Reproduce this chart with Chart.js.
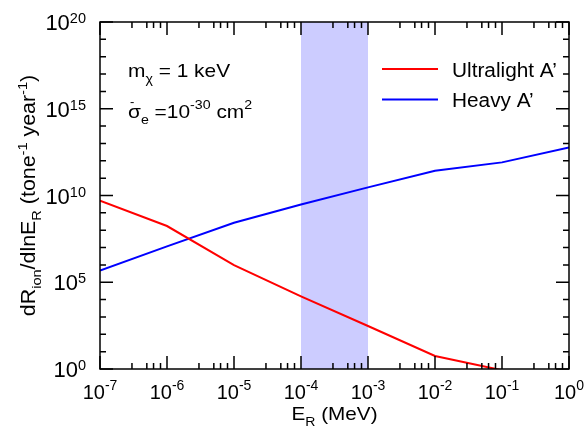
<!DOCTYPE html>
<html>
<head>
<meta charset="utf-8">
<script src="https://cdn.jsdelivr.net/npm/chart.js@4.4.1/dist/chart.umd.min.js"></script>
<style>
  html, body { margin: 0; padding: 0; background: #fff; }
  canvas { display: block; }
</style>
</head>
<body>
<canvas id="rate-chart" width="587" height="433"></canvas>
<script>
// recoil energy E_R (MeV)
const energies = [1e-7, 1e-6, 1e-5, 1e-4, 1e-3, 1e-2, 1e-1, 1];
// dR_ion/dlnE_R (tone^-1 year^-1)
const ultralight = [5.1e9, 1.74e8, 9.8e5, 1.55e4, 302, 5.6, 0.85, null];
const heavy = [4.7e5, 1.17e7, 2.7e8, 3.0e9, 2.95e10, 2.7e11, 8.1e11, 5.8e12];

const seriesNames = ['Ultralight A\u2019', 'Heavy A\u2019'];
const seriesColors = ['#ff0000', '#0000ff'];

const bandRange = [1e-4, 1e-3];

const xTickValues = [1e-7, 1e-6, 1e-5, 1e-4, 1e-3, 1e-2, 1e-1, 1];
const xTickExponents = ['-7', '-6', '-5', '-4', '-3', '-2', '-1', '0'];
const xMinorSteps = [3, 5, 6.3, 8];
const yTickValues = [1, 1e5, 1e10, 1e15, 1e20];
const yTickExponents = ['0', '5', '10', '15', '20'];

const FONT = "'Liberation Sans', Arial, sans-serif";

function toPoints(values) {
    const pts = [];
    values.forEach((v, i) => {
        if (v !== null) pts.push({ x: energies[i], y: v });
    });
    return pts;
}

// draws text with sub/superscripts; parts = [[text, 'sub'|'sup'|undefined], ...]
function drawRich(ctx, parts, x, y, opt) {
    const f = opt.size;
    const sx = opt.stretch || 1;
    const items = parts.map(p => {
        const small = p[1] === 'sub' || p[1] === 'sup';
        const size = small ? f * (opt.smallScale || 0.68) : f;
        ctx.font = size + 'px ' + FONT;
        const dy = p[1] === 'sub' ? (opt.subDy ?? f * 0.3) : p[1] === 'sup' ? -(opt.supDy ?? f * 0.42) : 0;
        return { text: p[0], size, dy, w: ctx.measureText(p[0]).width };
    });
    const total = items.reduce((s, it) => s + it.w, 0);
    let cx = opt.align === 'center' ? -total / 2 : opt.align === 'right' ? -total : 0;
    ctx.save();
    ctx.translate(x, y);
    if (opt.rotate) ctx.rotate(opt.rotate);
    ctx.scale(sx, 1);
    ctx.fillStyle = '#000';
    ctx.textAlign = 'left';
    ctx.textBaseline = 'alphabetic';
    items.forEach(it => {
        ctx.font = it.size + 'px ' + FONT;
        ctx.fillText(it.text, cx, it.dy);
        cx += it.w;
    });
    ctx.restore();
}

const bandPlugin = {
    id: 'band',
    beforeDatasetsDraw(chart) {
        const { ctx, chartArea, scales } = chart;
        const x0 = scales.x.getPixelForValue(bandRange[0]);
        const x1 = scales.x.getPixelForValue(bandRange[1]);
        ctx.save();
        ctx.fillStyle = '#ccccff';
        ctx.fillRect(x0, chartArea.top, x1 - x0, chartArea.bottom - chartArea.top);
        ctx.restore();
    }
};

const framePlugin = {
    id: 'frame',
    afterDraw(chart) {
        const { ctx, chartArea: a, scales } = chart;
        const xs = scales.x, ys = scales.y;
        const major = 13, minor = 6;
        ctx.save();
        ctx.strokeStyle = '#000';
        ctx.lineWidth = 1.5;
        ctx.strokeRect(a.left, a.top, a.right - a.left, a.bottom - a.top);

        ctx.beginPath();
        // x ticks, bottom and top, pointing inward
        xTickValues.forEach((v, i) => {
            const px = xs.getPixelForValue(v);
            ctx.moveTo(px, a.bottom); ctx.lineTo(px, a.bottom - major);
            ctx.moveTo(px, a.top); ctx.lineTo(px, a.top + major);
            if (i < xTickValues.length - 1) {
                xMinorSteps.forEach(m => {
                    const mx = xs.getPixelForValue(v * m);
                    ctx.moveTo(mx, a.bottom); ctx.lineTo(mx, a.bottom - minor);
                    ctx.moveTo(mx, a.top); ctx.lineTo(mx, a.top + minor);
                });
            }
        });
        // y ticks every decade, longer every five
        for (let e = 0; e <= 20; e++) {
            const py = ys.getPixelForValue(Math.pow(10, e));
            const len = e % 5 === 0 ? major : minor;
            ctx.moveTo(a.left, py); ctx.lineTo(a.left + len, py);
            ctx.moveTo(a.right, py); ctx.lineTo(a.right - len, py);
        }
        ctx.stroke();

        // tick labels
        xTickValues.forEach((v, i) => {
            drawRich(ctx, [['10'], [xTickExponents[i], 'sup']], xs.getPixelForValue(v), a.bottom + 30,
                { size: 20, stretch: 1.0, align: 'center', smallScale: 0.7, supDy: 9 });
        });
        yTickValues.forEach((v, i) => {
            drawRich(ctx, [['10'], [yTickExponents[i], 'sup']], a.left - 14, ys.getPixelForValue(v) + 8,
                { size: 22, stretch: 1.0, align: 'right', smallScale: 0.66, supDy: 7 });
        });

        // axis titles
        drawRich(ctx, [['E'], ['R', 'sub'], [' (MeV)']], (a.left + a.right) / 2, 420,
            { size: 19, stretch: 1.09, align: 'center', subDy: 6 });
        drawRich(ctx, [['dR'], ['ion', 'sub'], ['/dlnE'], ['R', 'sub'], [' (tone'], ['-1', 'sup'],
            [' year'], ['-1', 'sup'], [')']], 35, (a.top + a.bottom) / 2,
            { size: 20, stretch: 1.07, align: 'center', rotate: -Math.PI / 2, subDy: 6, supDy: 8 });

        // annotation
        drawRich(ctx, [['m'], ['\u03c7', 'sub'], [' = 1 keV']], 128, 77,
            { size: 19, stretch: 1.1, subDy: 6 });
        drawRich(ctx, [['\u03c3'], ['e', 'sub'], [' =10'], ['-30', 'sup'], [' cm'], ['2', 'sup']], 128, 118,
            { size: 19, stretch: 1.1, subDy: 6, supDy: 9 });
        drawRich(ctx, [['-']], 130, 106, { size: 13, stretch: 1 });

        // legend
        const legendRows = [69, 99.5];
        seriesNames.forEach((name, i) => {
            ctx.strokeStyle = seriesColors[i];
            ctx.lineWidth = 2;
            ctx.beginPath();
            ctx.moveTo(382, legendRows[i]);
            ctx.lineTo(438, legendRows[i]);
            ctx.stroke();
            drawRich(ctx, [[name]], 452, legendRows[i] + 7.5, { size: 20, stretch: 1.04 });
        });
        ctx.restore();
    }
};

const chart = new Chart(document.getElementById('rate-chart'), {
    type: 'line',
    data: {
        datasets: [
            {
                label: seriesNames[0],
                data: toPoints(ultralight),
                borderColor: seriesColors[0],
                borderWidth: 2,
                pointRadius: 0,
                tension: 0,
                clip: 0
            },
            {
                label: seriesNames[1],
                data: toPoints(heavy),
                borderColor: seriesColors[1],
                borderWidth: 2,
                pointRadius: 0,
                tension: 0,
                clip: 0
            }
        ]
    },
    options: {
        responsive: false,
        devicePixelRatio: 1,
        animation: false,
        layout: { padding: { left: 100, right: 18, top: 22, bottom: 64 } },
        plugins: {
            legend: { display: false },
            tooltip: { enabled: false }
        },
        scales: {
            x: { type: 'logarithmic', min: 1e-7, max: 1, display: false },
            y: { type: 'logarithmic', min: 1, max: 1e20, display: false }
        }
    },
    plugins: [bandPlugin, framePlugin]
});
</script>
</body>
</html>
